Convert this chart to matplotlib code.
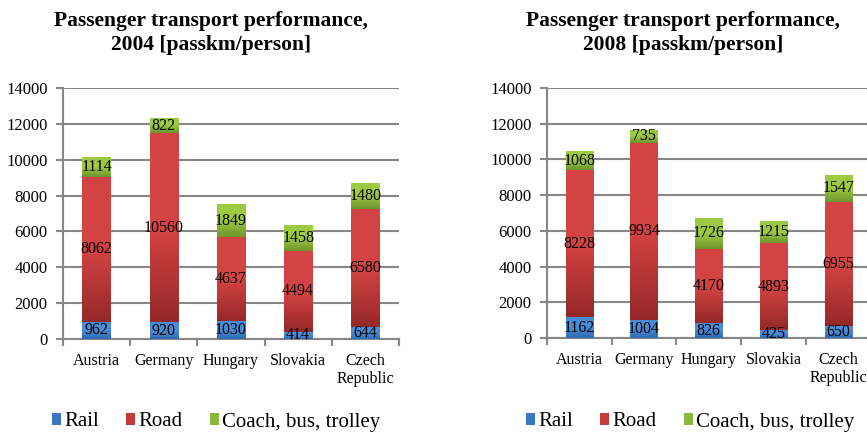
import matplotlib
matplotlib.use("Agg")
import matplotlib.pyplot as plt
import numpy as np
from matplotlib.colors import LinearSegmentedColormap
from matplotlib.patches import Patch

plt.rcParams['font.family'] = ['Liberation Serif', 'DejaVu Serif']

countries = ["Austria", "Germany", "Hungary", "Slovakia", "Czech\nRepublic"]
series_names = ["Rail", "Road", "Coach, bus, trolley"]

rail_2004 = [962, 920, 1030, 414, 644]
road_2004 = [8062, 10560, 4637, 4494, 6580]
coach_2004 = [1114, 822, 1849, 1458, 1480]

rail_2008 = [1162, 1004, 826, 425, 650]
road_2008 = [8228, 9934, 4170, 4893, 6955]
coach_2008 = [1068, 735, 1726, 1215, 1547]

titles = ["Passenger transport performance,\n2004 [passkm/person]",
          "Passenger transport performance,\n2008 [passkm/person]"]

yticks = [0, 2000, 4000, 6000, 8000, 10000, 12000, 14000]

# (top colour, bottom colour) for vertical gradient, legend colour
grad = [("#4a8cd8", "#2d69b3"), ("#d44343", "#952828"), ("#9dca42", "#6c942c")]
legend_cols = ["#3b78c4", "#c23a3a", "#8ab83a"]

fig = plt.figure(figsize=(8.67, 4.32), dpi=100)

axes_rects = [[63/867, 0.2153, 336/867, 0.581], [547/867, 0.2176, 323.5/867, 0.5787]]
title_x = [211/867, 683/867]
legend_x = [216/867, 690/867]

datasets = [(rail_2004, road_2004, coach_2004), (rail_2008, road_2008, coach_2008)]

gray = "#878787"
for k, rect in enumerate(axes_rects):
    ax = fig.add_axes(rect)
    x = np.arange(len(countries))
    bottom = np.zeros(len(countries))
    w = 0.42
    for s, vals in enumerate(datasets[k]):
        vals = np.array(vals, dtype=float)
        bars = ax.bar(x, vals, w, bottom=bottom, color=legend_cols[s], zorder=3, linewidth=0)
        cmap = LinearSegmentedColormap.from_list("g%d" % s, [grad[s][1], grad[s][0], grad[s][0]])
        gimg = np.linspace(0, 1, 256).reshape(-1, 1)
        for b in bars:
            x0, y0, bw, bh = b.get_x(), b.get_y(), b.get_width(), b.get_height()
            im = ax.imshow(gimg, cmap=cmap, origin="lower", aspect="auto",
                           extent=(x0, x0 + bw, y0, y0 + bh), zorder=3.5,
                           interpolation="bicubic")
            im.set_clip_path(b)
        for xi, v, bt in zip(x, vals, bottom):
            ax.text(xi, bt + v / 2, "%d" % v, ha="center", va="center",
                    fontsize=11.5, color="black", zorder=5)
        bottom = bottom + vals

    ax.set_xlim(-0.5, len(countries) - 0.5)
    ax.set_ylim(0, 14000)
    ax.set_yticks(yticks)
    ax.set_yticklabels([str(t) for t in yticks], fontsize=12)
    ax.yaxis.grid(True, color=gray, linewidth=1.5, zorder=0)
    ax.set_axisbelow(True)
    ax.set_xticks(x)
    ax.set_xticklabels(countries, fontsize=11.5, linespacing=1.15)
    ax.set_xticks(np.arange(len(countries) + 1) - 0.5, minor=True)
    ax.tick_params(axis="x", which="major", length=0, pad=10)
    ax.tick_params(axis="x", which="minor", length=5, width=1.5, color=gray, direction="out")
    ax.tick_params(axis="y", length=5, width=1.5, color=gray, direction="out", pad=6)
    for sp in ["top", "right"]:
        ax.spines[sp].set_visible(False)
    for sp in ["left", "bottom"]:
        ax.spines[sp].set_color(gray)
        ax.spines[sp].set_linewidth(1.5)

    fig.text(title_x[k], 1 - 33/432, titles[k], ha="center", va="center",
             fontsize=15.5, fontweight="bold", linespacing=1.3)

    handles = [Patch(facecolor=c, edgecolor="none") for c in legend_cols]
    fig.legend(handles, series_names, loc="center", bbox_to_anchor=(legend_x[k], 1 - 422/432),
               ncol=3, frameon=False, fontsize=15, handlelength=0.45, handleheight=0.45,
               handletextpad=0.15, columnspacing=1.3, borderaxespad=0)

fig.savefig("out.png", dpi=100)
